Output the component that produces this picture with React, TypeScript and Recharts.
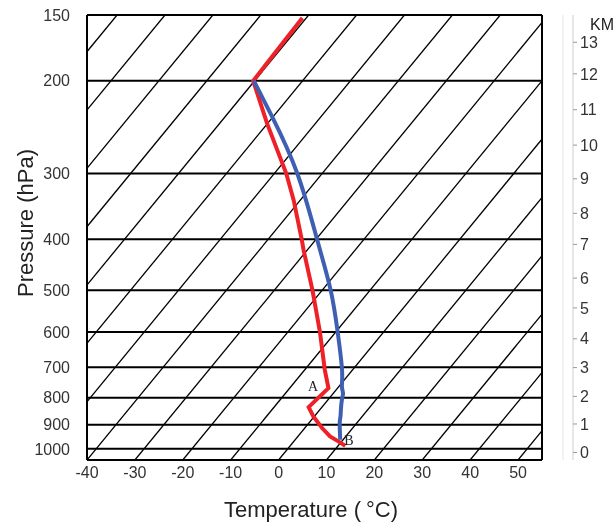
import { LineChart, Line, XAxis, YAxis, CartesianGrid, ReferenceDot } from "recharts";

// bottom temperature axis and the pressure levels on the left
const tempTicks = [-40, -30, -20, -10, 0, 10, 20, 30, 40, 50];
const pressureTicks = [150, 200, 300, 400, 500, 600, 700, 800, 900, 1000];

// height scale on the right (km) and the pressure each mark sits at
const kmLabels = ["0", "1", "2", "3", "4", "5", "6", "7", "8", "9", "10", "11", "12", "13"];
const kmPressure = [1016, 897, 795, 701, 618, 540, 474, 409, 357, 307, 265, 227, 194, 169];

// background isotherms, every 10 °C
const isotherms = [-110, -100, -90, -80, -70, -60, -50, -40, -30, -20, -10, 0, 10, 20, 30, 40, 50];

// sounding (red): pressure hPa / temperature °C
const envPressure = [152, 200, 241, 300, 337, 400, 419, 500, 600, 708, 767, 833, 868, 913, 947, 968, 987];
const envTemp = [-70.8, -70.3, -60.1, -47.5, -41.4, -33.0, -30.8, -22.0, -13.3, -5.8, -1.9, -2.8, -0.2, 3.6, 6.7, 9.3, 11.5];

// lifted parcel (blue)
const parcelPressure = [200, 234, 300, 400, 500, 600, 708, 761, 784, 807, 843, 869, 895, 961];
const parcelTemp = [-70.2, -60.2, -45.2, -29.8, -18.2, -9.6, -2.2, 0.6, 2.0, 2.9, 4.4, 5.5, 6.5, 9.4];

// point labels
const markText = ["A", "B"];
const markPressure = [759, 963];
const markTemp = [-5.5, 11.3];

const P_TOP = 150;
const P_BOTTOM = 1050;
const SKEW = 39.2; // °C per unit of ln(p), isotherm lean

const skewX = (t: number, p: number) => t + SKEW * Math.log(P_BOTTOM / p);
const toPoints = (ps: number[], ts: number[]) => ps.map((p, i) => ({ x: skewX(ts[i], p), p }));

const envData = toPoints(envPressure, envTemp);
const parcelData = toPoints(parcelPressure, parcelTemp);
const isoData = isotherms.map((t) => [
  { x: skewX(t, P_BOTTOM), p: P_BOTTOM },
  { x: skewX(t, P_TOP), p: P_TOP },
]);

const SANS = '"Liberation Sans", Arial, sans-serif';
const SERIF = '"Liberation Serif", "Times New Roman", serif';

const kmFormat = (v: number) => {
  const i = kmPressure.indexOf(v);
  return i >= 0 ? kmLabels[i] : "";
};

export default function App() {
  return (
    <div style={{ fontFamily: SANS, position: "fixed", left: 8, top: 8, width: 608, height: 516 }}>
      <style>{".recharts-wrapper, .recharts-surface { overflow: visible !important; }"}</style>
      <LineChart width={608} height={516} margin={{ top: 7, right: 0, bottom: 0, left: 0 }}>
        <CartesianGrid vertical={false} stroke="#000" strokeWidth={2} />
        <XAxis
          type="number"
          dataKey="x"
          domain={[-40, 55]}
          ticks={tempTicks}
          interval={0}
          allowDataOverflow
          height={64}
          axisLine={{ stroke: "#000", strokeWidth: 2 }}
          tickLine={false}
          tickSize={0}
          tickMargin={7}
          tick={{ fill: "#333", fontSize: 16 }}
          label={{
            content: () => (
              <text x={303} y={509} textAnchor="middle" fontSize={22} fill="#222" fontFamily={SANS}>
                Temperature (<tspan dx={5}>°C)</tspan>
              </text>
            ),
          }}
        />
        <YAxis
          type="number"
          scale="log"
          domain={[P_TOP, P_BOTTOM]}
          reversed
          allowDataOverflow
          ticks={pressureTicks}
          interval={0}
          width={79}
          axisLine={{ stroke: "#000", strokeWidth: 2 }}
          tickLine={false}
          tickSize={0}
          tickMargin={17}
          tick={{ fill: "#333", fontSize: 16 }}
          label={{
            content: () => (
              <text
                x={25}
                y={215}
                transform="rotate(-90 25 215)"
                textAnchor="middle"
                fontSize={22}
                fill="#222"
                fontFamily={SANS}
              >
                Pressure (hPa)
              </text>
            ),
          }}
        />
        <YAxis
          yAxisId="frame"
          orientation="right"
          type="number"
          scale="log"
          domain={[P_TOP, P_BOTTOM]}
          reversed
          allowDataOverflow
          width={21}
          axisLine={{ stroke: "#000", strokeWidth: 2 }}
          tick={false}
          tickLine={false}
        />
        <YAxis
          yAxisId="gap"
          orientation="right"
          type="number"
          scale="log"
          domain={[P_TOP, P_BOTTOM]}
          reversed
          allowDataOverflow
          width={10}
          axisLine={{ stroke: "#e4e4e4" }}
          tick={false}
          tickLine={false}
        />
        <YAxis
          yAxisId="km"
          orientation="right"
          type="number"
          scale="log"
          domain={[P_TOP, P_BOTTOM]}
          reversed
          allowDataOverflow
          width={43}
          ticks={kmPressure}
          interval={0}
          tickFormatter={kmFormat}
          axisLine={{ stroke: "#cfcfcf" }}
          tickLine={{ stroke: "#999" }}
          tickSize={4}
          tickMargin={3}
          tick={{ fill: "#333", fontSize: 16, textAnchor: "start" }}
          label={{
            content: () => (
              <text x={594} y={22} textAnchor="middle" fontSize={16} fill="#222" fontFamily={SANS}>
                KM
              </text>
            ),
          }}
        />

        {isoData.map((d, i) => (
          <Line
            key={"iso" + isotherms[i]}
            data={d}
            dataKey="p"
            stroke="#000"
            strokeWidth={1.3}
            dot={false}
            activeDot={false}
            isAnimationActive={false}
          />
        ))}

        <Line
          data={envData}
          dataKey="p"
          stroke="#ee2028"
          strokeWidth={4}
          dot={false}
          activeDot={false}
          isAnimationActive={false}
        />
        <Line
          data={parcelData}
          dataKey="p"
          type="natural"
          stroke="#3f5fb3"
          strokeWidth={4}
          dot={false}
          activeDot={false}
          isAnimationActive={false}
        />

        {markText.map((m, i) => (
          <ReferenceDot
            key={m}
            x={skewX(markTemp[i], markPressure[i])}
            y={markPressure[i]}
            r={0}
            shape={(s: any) => (
              <text x={s.cx} y={s.cy} dy="0.36em" textAnchor="middle" fontSize={14} fill="#222" fontFamily={SERIF}>
                {m}
              </text>
            )}
          />
        ))}
      </LineChart>
    </div>
  );
}
